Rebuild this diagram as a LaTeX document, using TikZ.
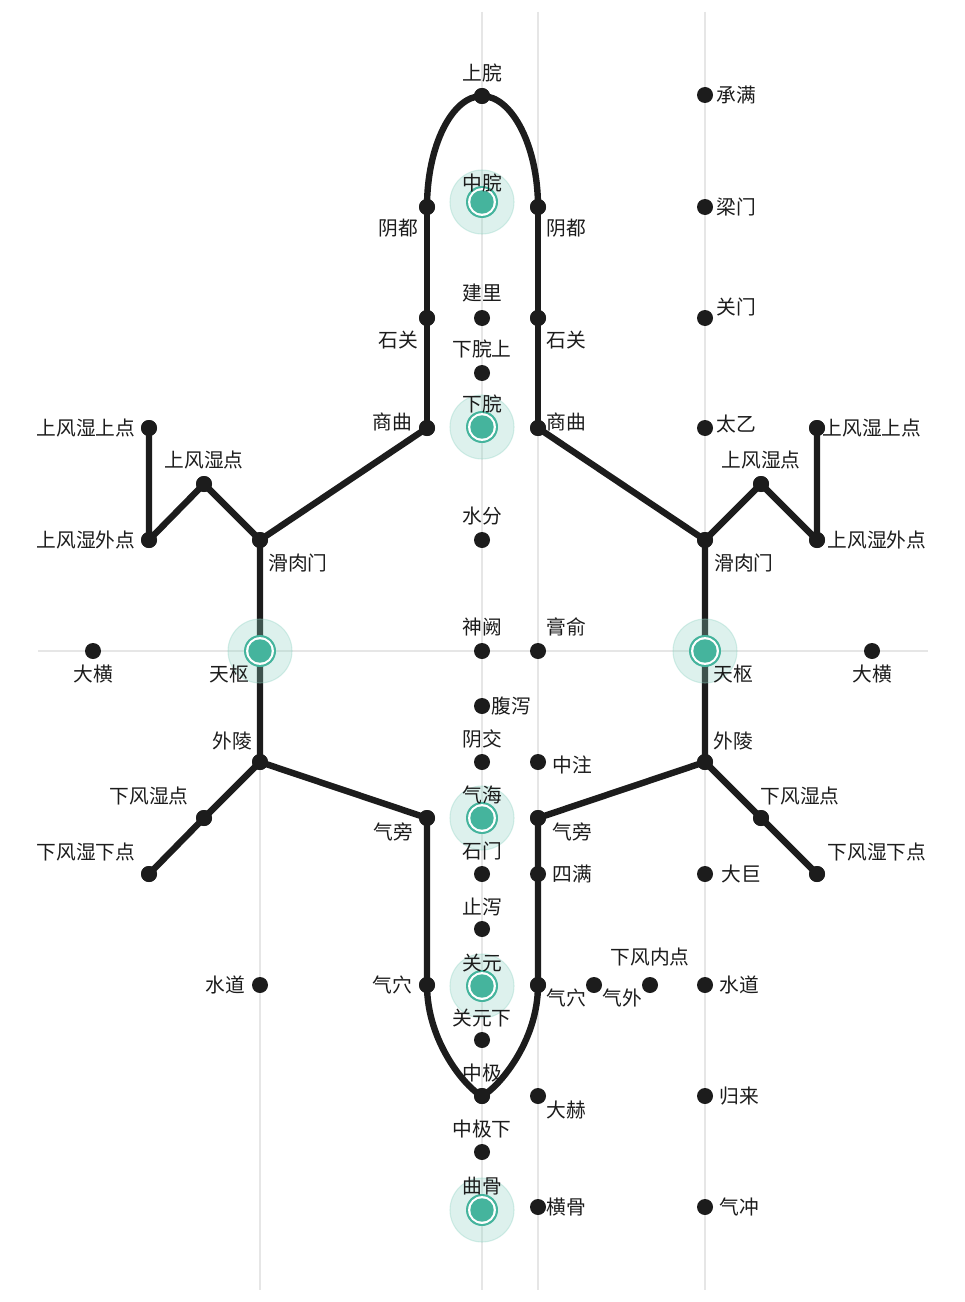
\documentclass[tikz,border=0pt]{standalone}
\usepackage{fontspec}
\setmainfont{Noto Sans CJK SC}
\definecolor{ink}{HTML}{1C1C1C}
\definecolor{teal}{HTML}{45B49D}
\definecolor{halo}{HTML}{8FD3C4}
\definecolor{grid}{HTML}{E6E6E6}
\tikzset{
  dot/.style={circle, fill=ink, minimum size=12pt, inner sep=0pt},
  lbl/.style={inner sep=0pt, text=ink, font=\fontsize{14.8}{16}\selectfont},
  thick line/.style={draw=ink, line width=4.8pt, line join=round, line cap=round},
  gridline/.style={draw=grid, line width=0.9pt},
}
\newcommand{\greenpt}[2]{%
  \fill[halo, fill opacity=0.3] (#2) circle[radius=24pt];
  \draw[halo, opacity=0.35, line width=0.8pt] (#2) circle[radius=24pt];
  \node[circle, fill=teal, minimum size=24pt, inner sep=0pt] (#1) at (#2) {};
  \fill[white] (#1) circle[radius=10.4pt];
  \fill[teal] (#1) circle[radius=8.8pt];
}
\begin{document}
\begin{tikzpicture}[x=0.75pt, y=-0.75pt]
\useasboundingbox[fill=white] (0,0) rectangle (964,1302);
% grid
\coordinate (g1a) at (482,12); \coordinate (g1b) at (482,1290);
\coordinate (g2a) at (538,12); \coordinate (g2b) at (538,1290);
\coordinate (g3a) at (705,12); \coordinate (g3b) at (705,1290);
\coordinate (g4a) at (260,660); \coordinate (g4b) at (260,1290);
\coordinate (h1a) at (38,651); \coordinate (h1b) at (928,651);
\draw[gridline] (g1a) -- (g1b);
\draw[gridline] (g2a) -- (g2b);
\draw[gridline] (g3a) -- (g3b);
\draw[gridline] (g4a) -- (g4b);
\draw[gridline] (h1a) -- (h1b);

% coordinates of points
\coordinate (zwc) at (482,202);
\coordinate (xwc) at (482,427);
\coordinate (qhc) at (482,818);
\coordinate (gyc) at (482,986);
\coordinate (qgc) at (482,1210);
\coordinate (tsLc) at (260,651);
\coordinate (tsRc) at (705,651);

% black dots
\node[dot] (sw) at (482,96) {};
\node[dot] (jl) at (482,318) {};
\node[dot] (xws) at (482,373) {};
\node[dot] (sf) at (482,540) {};
\node[dot] (sq) at (482,651) {};
\node[dot] (fx) at (482,706) {};
\node[dot] (yj) at (482,762) {};
\node[dot] (sm) at (482,874) {};
\node[dot] (zx) at (482,929) {};
\node[dot] (gyx) at (482,1040) {};
\node[dot] (zj) at (482,1096) {};
\node[dot] (zjx) at (482,1152) {};

\node[dot] (ydL) at (427,207) {};
\node[dot] (sgL) at (427,318) {};
\node[dot] (sqL) at (427,428) {};
\node[dot] (qpL) at (427,818) {};
\node[dot] (qxL) at (427,985) {};

\node[dot] (ydR) at (538,207) {};
\node[dot] (sgR) at (538,318) {};
\node[dot] (sqR) at (538,428) {};
\node[dot] (gs) at (538,651) {};
\node[dot] (zz) at (538,762) {};
\node[dot] (qpR) at (538,818) {};
\node[dot] (sman) at (538,874) {};
\node[dot] (qxR) at (538,985) {};
\node[dot] (dh) at (538,1096) {};
\node[dot] (hg) at (538,1207) {};

\node[dot] (cm) at (705,95) {};
\node[dot] (lm) at (705,207) {};
\node[dot] (gm) at (705,318) {};
\node[dot] (ty) at (705,428) {};
\node[dot] (hrR) at (705,540) {};
\node[dot] (wlR) at (705,762) {};
\node[dot] (dj) at (705,874) {};
\node[dot] (sdR) at (705,985) {};
\node[dot] (gl) at (705,1096) {};
\node[dot] (qc) at (705,1207) {};

\node[dot] (hrL) at (260,540) {};
\node[dot] (wlL) at (260,762) {};
\node[dot] (sdL) at (260,985) {};

\node[dot] (usuL) at (149,428) {};
\node[dot] (usL) at (204,484) {};
\node[dot] (usoL) at (149,540) {};
\node[dot] (dhL) at (93,651) {};
\node[dot] (dsL) at (204,818) {};
\node[dot] (dsxL) at (149,874) {};

\node[dot] (usuR) at (817,428) {};
\node[dot] (usR) at (761,484) {};
\node[dot] (usoR) at (817,540) {};
\node[dot] (dhR) at (872,651) {};
\node[dot] (dsR) at (761,818) {};
\node[dot] (dsxR) at (817,874) {};

\node[dot] (qw) at (594,985) {};
\node[dot] (xfn) at (650,985) {};

% thick paths
\draw[thick line] (ydL.center) .. controls (427,146) and (452,96) .. (sw.center)
   .. controls (512,96) and (538,146) .. (ydR.center);
\draw[thick line] (ydL.center) -- (sgL.center) -- (sqL.center);
\draw[thick line] (ydR.center) -- (sgR.center) -- (sqR.center);
\draw[thick line] (sqL.center) -- (hrL.center) -- (tsLc) -- (wlL.center) -- (qpL.center) -- (qxL.center)
   .. controls (427,1042) and (466,1088) .. (zj.center)
   .. controls (498,1088) and (538,1042) .. (qxR.center)
   -- (qpR.center) -- (wlR.center) -- (tsRc) -- (hrR.center) -- (sqR.center);
\draw[thick line] (hrL.center) -- (usL.center) -- (usoL.center) -- (usuL.center);
\draw[thick line] (hrR.center) -- (usR.center) -- (usoR.center) -- (usuR.center);
\draw[thick line] (wlL.center) -- (dsL.center) -- (dsxL.center);
\draw[thick line] (wlR.center) -- (dsR.center) -- (dsxR.center);

% redraw dots on top of lines
\foreach \n in {sw,ydL,sgL,sqL,qpL,qxL,ydR,sgR,sqR,qpR,qxR,zj,hrL,wlL,hrR,wlR,usL,usoL,usuL,usR,usoR,usuR,dsL,dsxL,dsR,dsxR}
  \fill[ink] (\n) circle[radius=6pt];

% green points
\greenpt{zw}{zwc}
\greenpt{xw}{xwc}
\greenpt{qh}{qhc}
\greenpt{gy}{gyc}
\greenpt{qg}{qgc}
\greenpt{tsL}{tsLc}
\greenpt{tsR}{tsRc}

% labels centre column
\node[lbl] (l-sw) at (482,73) {上脘};
\node[lbl] (l-zw) at (482,183) {中脘};
\node[lbl] (l-jl) at (482,293) {建里};
\node[lbl] (l-xws) at (482,349) {下脘上};
\node[lbl] (l-xw) at (482,404) {下脘};
\node[lbl] (l-sf) at (482,516) {水分};
\node[lbl] (l-sq) at (482,627) {神阙};
\node[lbl, anchor=west] (l-fx) at (491,706) {腹泻};
\node[lbl] (l-yj) at (482,739) {阴交};
\node[lbl] (l-qh) at (482,795) {气海};
\node[lbl] (l-sm) at (482,851) {石门};
\node[lbl] (l-zx) at (482,907) {止泻};
\node[lbl] (l-gy) at (482,963) {关元};
\node[lbl] (l-gyx) at (482,1018) {关元下};
\node[lbl] (l-zj) at (482,1073) {中极};
\node[lbl] (l-zjx) at (482,1129) {中极下};
\node[lbl] (l-qg) at (482,1186) {曲骨};

% left inner column
\node[lbl] (l-ydL) at (398,228) {阴都};
\node[lbl] (l-sgL) at (398,340) {石关};
\node[lbl] (l-sqL) at (392,422) {商曲};
\node[lbl] (l-qpL) at (393,832) {气旁};
\node[lbl] (l-qxL) at (392,985) {气穴};

% right inner column
\node[lbl] (l-ydR) at (566,228) {阴都};
\node[lbl] (l-sgR) at (566,340) {石关};
\node[lbl] (l-sqR) at (566,422) {商曲};
\node[lbl] (l-gs) at (566,627) {膏俞};
\node[lbl] (l-zz) at (572,765) {中注};
\node[lbl] (l-qpR) at (572,832) {气旁};
\node[lbl] (l-sman) at (572,874) {四满};
\node[lbl] (l-qxR) at (566,998) {气穴};
\node[lbl] (l-dh) at (566,1110) {大赫};
\node[lbl] (l-hg) at (566,1207) {横骨};

% far right column
\node[lbl] (l-cm) at (736,95) {承满};
\node[lbl] (l-lm) at (736,207) {梁门};
\node[lbl] (l-gm) at (736,307) {关门};
\node[lbl] (l-ty) at (736,424) {太乙};
\node[lbl] (l-hrR) at (744,563) {滑肉门};
\node[lbl] (l-tsR) at (733,674) {天枢};
\node[lbl] (l-wlR) at (733,741) {外陵};
\node[lbl] (l-dj) at (741,874) {大巨};
\node[lbl] (l-sdR) at (739,985) {水道};
\node[lbl] (l-gl) at (739,1096) {归来};
\node[lbl] (l-qc) at (739,1207) {气冲};

% left column
\node[lbl] (l-hrL) at (298,563) {滑肉门};
\node[lbl] (l-tsL) at (229,674) {天枢};
\node[lbl] (l-wlL) at (232,741) {外陵};
\node[lbl] (l-sdL) at (225,985) {水道};

% outer left
\node[lbl] (l-usuL) at (86,428) {上风湿上点};
\node[lbl] (l-usL) at (204,460) {上风湿点};
\node[lbl] (l-usoL) at (86,540) {上风湿外点};
\node[lbl] (l-dhL) at (93,674) {大横};
\node[lbl] (l-dsL) at (149,796) {下风湿点};
\node[lbl] (l-dsxL) at (86,852) {下风湿下点};

% outer right
\node[lbl] (l-usuR) at (872,428) {上风湿上点};
\node[lbl] (l-usR) at (761,460) {上风湿点};
\node[lbl] (l-usoR) at (877,540) {上风湿外点};
\node[lbl] (l-dhR) at (872,674) {大横};
\node[lbl] (l-dsR) at (800,796) {下风湿点};
\node[lbl] (l-dsxR) at (877,852) {下风湿下点};

% extra points
\node[lbl] (l-qw) at (622,998) {气外};
\node[lbl] (l-xfn) at (650,957) {下风内点};
\end{tikzpicture}
\end{document}
